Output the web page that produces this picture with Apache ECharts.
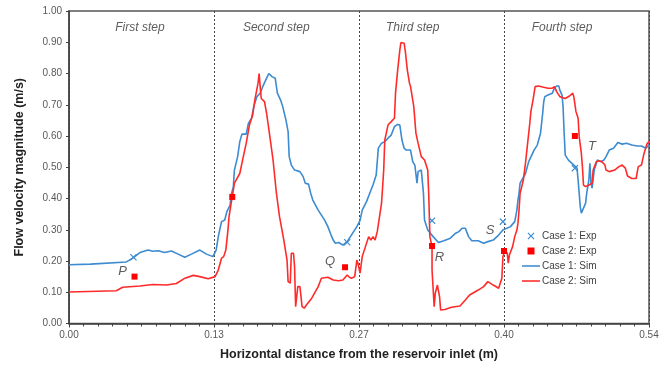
<!DOCTYPE html>
<html>
<head>
<meta charset="utf-8">
<script src="https://cdn.jsdelivr.net/npm/echarts@6/dist/echarts.min.js"></script>
<style>html,body{margin:0;padding:0;background:#fff;}#c{width:666px;height:368px;}</style>
</head>
<body>
<div id="c"></div>
<script>
// ---- Data ----
const xTickLabels = ['0.00', '0.13', '0.27', '0.40', '0.54'];
const stepNames = ['First step', 'Second step', 'Third step', 'Fourth step'];
const stepCenters = [0.066, 0.193, 0.320, 0.459];
const stepLabelY = 0.948;

const case1Sim = [[0.000,0.188],[0.020,0.190],[0.0535,0.197],[0.0597,0.21],[0.066,0.227],[0.0737,0.235],[0.078,0.231],[0.083,0.233],[0.089,0.227],[0.0954,0.232],[0.1016,0.222],[0.1078,0.212],[0.114,0.222],[0.1218,0.235],[0.128,0.222],[0.134,0.214],[0.137,0.235],[0.139,0.278],[0.142,0.326],[0.145,0.331],[0.147,0.358],[0.150,0.379],[0.151,0.411],[0.153,0.438],[0.154,0.491],[0.157,0.534],[0.159,0.582],[0.161,0.606],[0.165,0.606],[0.167,0.64],[0.170,0.657],[0.172,0.694],[0.175,0.726],[0.178,0.737],[0.181,0.763],[0.184,0.785],[0.186,0.80],[0.189,0.79],[0.192,0.785],[0.194,0.737],[0.197,0.715],[0.199,0.694],[0.202,0.651],[0.204,0.614],[0.205,0.534],[0.207,0.507],[0.210,0.491],[0.215,0.486],[0.218,0.47],[0.220,0.449],[0.223,0.446],[0.225,0.417],[0.227,0.395],[0.232,0.363],[0.235,0.347],[0.238,0.331],[0.241,0.31],[0.244,0.283],[0.246,0.267],[0.248,0.257],[0.251,0.259],[0.255,0.251],[0.259,0.262],[0.262,0.278],[0.265,0.294],[0.268,0.31],[0.271,0.33],[0.273,0.363],[0.277,0.39],[0.280,0.417],[0.283,0.443],[0.286,0.475],[0.288,0.561],[0.291,0.577],[0.294,0.582],[0.297,0.593],[0.300,0.603],[0.303,0.63],[0.306,0.637],[0.308,0.635],[0.310,0.587],[0.312,0.561],[0.314,0.555],[0.318,0.555],[0.320,0.518],[0.322,0.507],[0.324,0.449],[0.325,0.486],[0.328,0.491],[0.330,0.417],[0.331,0.331],[0.334,0.299],[0.339,0.278],[0.344,0.259],[0.349,0.265],[0.355,0.273],[0.360,0.289],[0.363,0.294],[0.366,0.305],[0.369,0.305],[0.372,0.278],[0.375,0.265],[0.381,0.265],[0.386,0.257],[0.390,0.262],[0.395,0.267],[0.400,0.283],[0.404,0.299],[0.411,0.31],[0.415,0.326],[0.417,0.363],[0.418,0.395],[0.419,0.417],[0.420,0.449],[0.425,0.48],[0.428,0.518],[0.433,0.555],[0.436,0.571],[0.439,0.609],[0.441,0.672],[0.442,0.71],[0.443,0.726],[0.446,0.731],[0.450,0.737],[0.452,0.753],[0.454,0.76],[0.456,0.76],[0.457,0.747],[0.459,0.731],[0.460,0.694],[0.461,0.609],[0.462,0.539],[0.465,0.523],[0.470,0.507],[0.473,0.497],[0.474,0.459],[0.475,0.417],[0.476,0.374],[0.477,0.353],[0.478,0.353],[0.481,0.385],[0.482,0.417],[0.484,0.459],[0.485,0.513],[0.486,0.449],[0.487,0.433],[0.489,0.491],[0.492,0.523],[0.495,0.518],[0.498,0.523],[0.500,0.534],[0.503,0.555],[0.507,0.561],[0.511,0.579],[0.515,0.574],[0.519,0.577],[0.524,0.571],[0.529,0.568],[0.533,0.568],[0.537,0.561],[0.540,0.571]];

const case2Sim = [[0.000,0.101],[0.044,0.105],[0.050,0.116],[0.066,0.12],[0.078,0.125],[0.0907,0.123],[0.0999,0.128],[0.108,0.145],[0.1156,0.154],[0.1218,0.15],[0.1296,0.143],[0.136,0.15],[0.139,0.171],[0.142,0.209],[0.144,0.214],[0.146,0.235],[0.148,0.299],[0.149,0.342],[0.151,0.385],[0.153,0.427],[0.154,0.449],[0.159,0.48],[0.162,0.529],[0.165,0.577],[0.168,0.635],[0.171,0.667],[0.173,0.715],[0.176,0.769],[0.177,0.80],[0.178,0.758],[0.179,0.72],[0.182,0.71],[0.184,0.672],[0.187,0.598],[0.190,0.523],[0.193,0.42],[0.196,0.342],[0.200,0.267],[0.203,0.203],[0.204,0.134],[0.206,0.129],[0.207,0.225],[0.209,0.225],[0.210,0.182],[0.211,0.054],[0.213,0.118],[0.215,0.118],[0.217,0.054],[0.219,0.049],[0.221,0.059],[0.226,0.081],[0.232,0.118],[0.235,0.145],[0.241,0.148],[0.246,0.139],[0.251,0.137],[0.255,0.139],[0.259,0.155],[0.261,0.148],[0.263,0.145],[0.266,0.15],[0.268,0.203],[0.269,0.193],[0.271,0.161],[0.273,0.214],[0.276,0.246],[0.279,0.278],[0.281,0.267],[0.283,0.278],[0.285,0.267],[0.287,0.294],[0.288,0.289],[0.291,0.385],[0.293,0.491],[0.294,0.587],[0.297,0.635],[0.300,0.646],[0.303,0.657],[0.304,0.737],[0.306,0.811],[0.308,0.875],[0.309,0.899],[0.312,0.897],[0.313,0.875],[0.315,0.811],[0.317,0.769],[0.318,0.758],[0.321,0.694],[0.323,0.609],[0.325,0.577],[0.328,0.534],[0.331,0.523],[0.334,0.491],[0.335,0.406],[0.336,0.278],[0.338,0.246],[0.338,0.171],[0.340,0.054],[0.341,0.097],[0.343,0.123],[0.345,0.086],[0.346,0.043],[0.350,0.045],[0.356,0.052],[0.364,0.056],[0.369,0.075],[0.373,0.091],[0.381,0.107],[0.386,0.118],[0.390,0.134],[0.395,0.123],[0.400,0.113],[0.403,0.145],[0.404,0.214],[0.406,0.235],[0.408,0.225],[0.409,0.193],[0.410,0.219],[0.413,0.246],[0.415,0.278],[0.417,0.299],[0.418,0.321],[0.419,0.363],[0.420,0.417],[0.423,0.459],[0.425,0.513],[0.427,0.577],[0.429,0.64],[0.430,0.678],[0.432,0.715],[0.434,0.758],[0.437,0.76],[0.442,0.756],[0.446,0.753],[0.450,0.753],[0.452,0.758],[0.454,0.742],[0.457,0.726],[0.462,0.72],[0.466,0.728],[0.469,0.737],[0.470,0.726],[0.472,0.678],[0.474,0.657],[0.475,0.598],[0.477,0.545],[0.478,0.502],[0.479,0.443],[0.481,0.438],[0.484,0.443],[0.487,0.449],[0.488,0.491],[0.491,0.518],[0.493,0.521],[0.496,0.518],[0.499,0.507],[0.500,0.491],[0.503,0.486],[0.508,0.491],[0.512,0.502],[0.515,0.507],[0.518,0.497],[0.520,0.472],[0.524,0.464],[0.528,0.464],[0.530,0.502],[0.533,0.507],[0.535,0.539],[0.538,0.574],[0.540,0.582]];

const case1Exp = [[0.060,0.212],[0.259,0.260],[0.338,0.329],[0.404,0.326],[0.471,0.497]];
const case2Exp = [[0.061,0.150],[0.152,0.405],[0.257,0.180],[0.338,0.248],[0.405,0.232],[0.471,0.600]];

const pointLetters = ['P', 'Q', 'R', 'S', 'T'];
const pointLetterAt = [[0.050,0.166],[0.243,0.200],[0.345,0.212],[0.392,0.299],[0.487,0.568]];

// ---- Chart ----
const FONT = '"Liberation Sans", Arial, sans-serif';
const BLUE = '#3d8bd0';
const RED = '#ff2b2b';
const crossPath = 'path://M0,1.2 L1.2,0 L5,3.8 L8.8,0 L10,1.2 L6.2,5 L10,8.8 L8.8,10 L5,6.2 L1.2,10 L0,8.8 L3.8,5 Z';
const squarePath = 'path://M0,0 L10,0 L10,10 L0,10 Z';
const linePath = 'path://M0,0 L30,0 L30,2.6 L0,2.6 Z';

const chart = echarts.init(document.getElementById('c'), null, {renderer: 'canvas'});
chart.setOption({
  animation: false,
  backgroundColor: '#fff',
  textStyle: {fontFamily: FONT},
  grid: {left: 69, right: 17, top: 11, bottom: 44.5, show: true, borderColor: '#555', borderWidth: 1.5, backgroundColor: 'transparent'},
  legend: {
    orient: 'vertical', left: 517, top: 225.5, itemWidth: 18, itemHeight: 7, itemGap: 4,
    symbolKeepAspect: true,
    textStyle: {fontFamily: FONT, fontSize: 10, lineHeight: 11, color: '#404040', padding: [0, 0, 0, -3]},
    data: [
      {name: 'Case 1: Exp', icon: crossPath},
      {name: 'Case 2: Exp', icon: squarePath},
      {name: 'Case 1: Sim', icon: linePath},
      {name: 'Case 2: Sim', icon: linePath}
    ]
  },
  xAxis: {
    type: 'value', min: 0, max: 0.54, interval: 0.135,
    name: 'Horizontal distance from the reservoir inlet (m)', nameLocation: 'middle', nameGap: 25,
    nameTextStyle: {fontFamily: FONT, fontSize: 12.5, fontWeight: 'bold', color: '#222'},
    axisLine: {show: true, lineStyle: {color: '#404040', width: 1.5}},
    axisTick: {show: true, length: 4, lineStyle: {color: '#404040'}},
    minorTick: {show: true, splitNumber: 10, length: 3, lineStyle: {color: '#404040'}},
    splitLine: {show: true, lineStyle: {type: [2, 2], color: '#444', width: 1}},
    axisLabel: {margin: 7, fontSize: 10, color: '#595959', fontFamily: FONT,
      formatter: v => xTickLabels[Math.round(v / 0.135)]}
  },
  yAxis: {
    type: 'value', min: 0, max: 1, interval: 0.1,
    name: 'Flow velocity magnitude (m/s)', nameLocation: 'middle', nameGap: 43,
    nameTextStyle: {fontFamily: FONT, fontSize: 12.5, fontWeight: 'bold', color: '#222'},
    axisLine: {show: true, lineStyle: {color: '#404040', width: 1.5}},
    axisTick: {show: true, length: 3, lineStyle: {color: '#404040'}},
    splitLine: {show: false},
    axisLabel: {margin: 7, fontSize: 10, color: '#595959', fontFamily: FONT, formatter: v => v.toFixed(2)}
  },
  series: [
    {name: 'Case 1: Sim', type: 'line', data: case1Sim, symbol: 'none', z: 2,
      lineStyle: {color: BLUE, width: 1.6}, itemStyle: {color: BLUE}},
    {name: 'Case 2: Sim', type: 'line', data: case2Sim, symbol: 'none', z: 3,
      lineStyle: {color: RED, width: 1.6}, itemStyle: {color: RED}},
    {name: 'Case 1: Exp', type: 'scatter', data: case1Exp, symbol: crossPath, symbolSize: 7, z: 5,
      itemStyle: {color: BLUE, opacity: 1}},
    {name: 'Case 2: Exp', type: 'scatter', data: case2Exp, symbol: 'rect', symbolSize: 6, z: 5,
      itemStyle: {color: '#ff0000', opacity: 1}},
    {name: 'letters', type: 'scatter', silent: true, symbolSize: 0, z: 6,
      data: pointLetterAt.map((p, i) => ({value: p, name: pointLetters[i]})),
      label: {show: true, position: 'inside', formatter: p => p.name, fontFamily: FONT, fontSize: 13, fontStyle: 'italic', color: '#333'}},
    {name: 'steps', type: 'scatter', silent: true, symbolSize: 0, z: 6,
      data: stepCenters.map((x, i) => ({value: [x, stepLabelY], name: stepNames[i]})),
      label: {show: true, position: 'inside', formatter: p => p.name, fontFamily: FONT, fontSize: 12, fontStyle: 'italic', color: '#333'}}
  ]
});
</script>
</body>
</html>
